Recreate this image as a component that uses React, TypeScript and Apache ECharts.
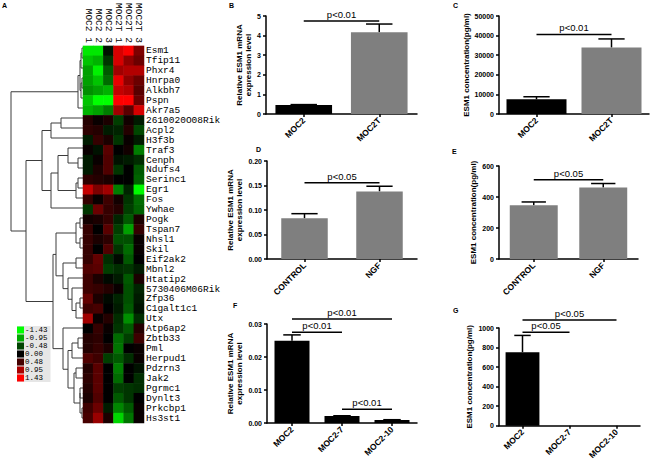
import React, { useEffect, useRef } from "react";
import * as echarts from "echarts";

// ---------- Heatmap data ----------
const heatCols = ["MOC2 1", "MOC2 2", "MOC2 3", "MOC2T 1", "MOC2T 2", "MOC2T 3"];
const genes = [
  "Esm1", "Tfip11", "Phxr4", "Hnrpa0", "Alkbh7", "Pspn", "Akr7a5", "2610020O08Rik",
  "Acpl2", "H3f3b", "Traf3", "Cenph", "Ndufs4", "Serinc1", "Egr1", "Fos", "Ywhae",
  "Pogk", "Tspan7", "Nhsl1", "Skil", "Eif2ak2", "Mbnl2", "Htatip2", "5730406M06Rik",
  "Zfp36", "C1galt1c1", "Utx", "Atp6ap2", "Zbtb33", "Pml", "Herpud1", "Pdzrn3", "Jak2",
  "Pgrmc1", "Dynlt3", "Prkcbp1", "Hs3st1",
];
const heatValues: number[][] = [
  [-1.3, -1.3, -0.1, 1.2, 1.4, 0.7],
  [-1.1, -1.0, -0.3, 1.2, 0.8, 0.6],
  [-0.9, -1.35, -0.5, 0.9, 1.0, 1.0],
  [-0.9, -1.1, -0.6, 1.3, 0.8, 0.6],
  [-0.8, -0.9, -1.0, 1.1, 1.0, 0.5],
  [-1.1, -1.43, -1.43, 1.43, 1.43, 0.6],
  [-1.0, -0.9, -0.7, 0.9, 0.5, 1.2],
  [0.2, 0.05, 0.15, -0.35, 0.1, -0.15],
  [0.25, 0.2, -0.15, -0.2, 0.2, -0.4],
  [-0.15, 0.3, 0.15, -0.3, 0.05, -0.15],
  [0.05, -0.1, 0.5, 0.0, 0.1, -0.7],
  [-0.15, 0.05, 0.45, -0.1, -0.15, -0.25],
  [-0.15, 0.15, 0.45, -0.3, 0.0, -0.5],
  [0.25, 0.2, 0.15, 0.0, 0.0, -0.55],
  [1.1, 0.7, 0.9, -0.7, -0.2, -1.4],
  [0.3, 0.05, 0.35, 0.1, -0.3, -0.6],
  [-0.3, 0.6, 0.3, 0.2, -0.35, -0.55],
  [0.1, 0.15, 0.3, -0.2, -0.5, 0.15],
  [0.3, 0.0, 0.5, -0.35, -0.9, 0.3],
  [0.3, 0.15, 0.25, -0.45, -0.45, 0.05],
  [0.3, 0.0, 0.45, -0.3, -0.6, 0.05],
  [0.3, 0.55, -0.25, -0.05, -0.5, 0.0],
  [0.45, 0.5, -0.35, -0.25, -0.3, -0.15],
  [0.35, 0.15, -0.05, -0.15, -0.5, 0.15],
  [0.35, 0.3, 0.2, 0.05, -0.45, -0.2],
  [0.55, 0.15, -0.05, -0.2, -0.45, -0.15],
  [0.35, 0.4, 0.0, -0.15, -0.5, -0.1],
  [0.9, 0.05, 0.2, -0.25, -0.8, -0.25],
  [0.0, 0.3, 0.05, -0.3, -0.5, 0.2],
  [0.2, 0.25, 0.0, -0.6, -0.35, 0.35],
  [0.2, 0.3, 0.15, -0.65, 0.0, 0.05],
  [0.45, 0.35, -0.35, -0.5, -0.25, 0.05],
  [0.2, 0.5, 0.0, -0.7, 0.0, -0.1],
  [0.25, 0.5, 0.0, -0.6, 0.0, -0.25],
  [0.2, 0.5, 0.0, -0.35, -0.3, -0.25],
  [0.15, 0.45, 0.0, -0.5, -0.3, 0.0],
  [0.35, 0.6, -0.15, -0.75, -0.5, 0.05],
  [0.4, 0.85, 0.15, -1.2, -0.65, 0.05],
];
const legendValues = [-1.43, -0.95, -0.48, 0.0, 0.48, 0.95, 1.43];
const legendLabels = ["-1.43", "-0.95", "-0.48", "0.00", "0.48", "0.95", "1.43"];

// Dendrogram: [mergeHeight, left, right]; leaves are row indices
type Node = number | [number, Node, Node];
const dendroTop: Node = [5, [3, [2, [1, 0, 1], 2], [2, [1, 3, 4], 5]], 6];
const dendroN2: Node = [41, [32, [22, 7, 8], 9], [32, [25, [15, 10, [5, 11, 12]], [7, [5, 13, 14], 15]], 16]];
const dendroN7: Node = [27, [7, [3, 17, 18], [3, 19, 20]], [20, [7, 21, 22], [15, 23, [11, 24, [7, [3, 25, 26], 27]]]]];
const dendroN9: Node = [20, 28, [15, [11, [5, 29, 30], 31], [9, [7, 32, 33], [3, [3, 34, 35], [1, 36, 37]]]]];
const dendrogram: Node = [72, dendroTop, [57, dendroN2, [30, dendroN7, dendroN9]]];
const dendroMaxHeight = 72;

// ---------- Bar panel data ----------
const catsB = ["MOC2", "MOC2T"];
const valsB = [0.46, 4.17];
const errsB = [0.02, 0.42];
const sigB = [[0, 1, 4.74]];
const sigTextB = ["p<0.01"];

const catsC = ["MOC2", "MOC2T"];
const valsC = [7500, 33900];
const errsC = [1300, 4400];
const sigC = [[0, 1, 40600]];
const sigTextC = ["p<0.01"];

const catsD = ["CONTROL", "NGF"];
const valsD = [0.083, 0.138];
const errsD = [0.0095, 0.0105];
const sigD = [[0, 1, 0.1557]];
const sigTextD = ["p<0.05"];

const catsE = ["CONTROL", "NGF"];
const valsE = [347, 461];
const errsE = [21, 26];
const sigE = [[0, 1, 512]];
const sigTextE = ["p<0.05"];

const catsF = ["MOC2", "MOC2-7", "MOC2-10"];
const valsF = [0.0249, 0.0021, 0.0009];
const errsF = [0.0018, 0.0001, 0.0001];
const sigF = [[0, 2, 0.0315], [0, 1, 0.0275], [1, 2, 0.0042]];
const sigTextF = ["p<0.01", "p<0.01", "p<0.01"];

const catsG = ["MOC2", "MOC2-7", "MOC2-10"];
const valsG = [752, 0, 0];
const errsG = [172, 0, 0];
const sigG = [[0, 2, 1082], [0, 1, 956]];
const sigTextG = ["p<0.05", "p<0.05"];

const SANS = "'Liberation Sans', Arial, sans-serif";
const MONO = "'Liberation Mono', 'Courier New', monospace";
const BLACK = "#000000";
const GRAY = "#7f7f7f";

const panels = [
  { cats: catsB, vals: valsB, errs: errsB, sig: sigB, sigText: sigTextB, max: 5, interval: 1, dec: 0,
    name: "Relative ESM1 mRNA\nexpression level", colors: [BLACK, GRAY],
    grid: { left: 266, top: 16, width: 151, height: 98 }, barWidth: "75%", nameGap: 13 },
  { cats: catsC, vals: valsC, errs: errsC, sig: sigC, sigText: sigTextC, max: 50000, interval: 10000, dec: 0,
    name: "ESM1 concentration(pg/ml)", colors: [BLACK, GRAY],
    grid: { left: 499, top: 16, width: 150, height: 98 }, barWidth: "80%", nameGap: 26 },
  { cats: catsD, vals: valsD, errs: errsD, sig: sigD, sigText: sigTextD, max: 0.2, interval: 0.05, dec: 2,
    name: "Relative ESM1 mRNA\nexpression level", colors: [GRAY, GRAY],
    grid: { left: 267, top: 161, width: 150, height: 98 }, barWidth: "62%", nameGap: 21 },
  { cats: catsE, vals: valsE, errs: errsE, sig: sigE, sigText: sigTextE, max: 600, interval: 200, dec: 0,
    name: "ESM1 concentration(pg/ml)", colors: [GRAY, GRAY],
    grid: { left: 499, top: 166, width: 139, height: 93 }, barWidth: "69%", nameGap: 17 },
  { cats: catsF, vals: valsF, errs: errsF, sig: sigF, sigText: sigTextF, max: 0.03, interval: 0.01, dec: 2,
    name: "Relative ESM1 mRNA\nexpression level", colors: [BLACK, BLACK, BLACK],
    grid: { left: 267, top: 324, width: 150, height: 99 }, barWidth: "70%", nameGap: 20 },
  { cats: catsG, vals: valsG, errs: errsG, sig: sigG, sigText: sigTextG, max: 1000, interval: 200, dec: 0,
    name: "ESM1 concentration(pg/ml)", colors: [BLACK, BLACK, BLACK],
    grid: { left: 499, top: 328, width: 141, height: 101 }, barWidth: "72%", nameGap: 25 },
];

const panelLetters = [
  { t: "A", x: 2, y: 2 },
  { t: "B", x: 229, y: 2 },
  { t: "C", x: 453, y: 2 },
  { t: "D", x: 256, y: 146 },
  { t: "E", x: 452, y: 148 },
  { t: "F", x: 233, y: 302 },
  { t: "G", x: 453, y: 307 },
];

function buildDendro(node: Node, segs: any[]): { y: number; h: number } {
  if (typeof node === "number") return { y: node, h: 0 };
  const [h, a, b] = node;
  const A = buildDendro(a, segs);
  const B = buildDendro(b, segs);
  segs.push({ coords: [[A.h, A.y], [h, A.y], [h, B.y], [B.h, B.y]] });
  return { y: (A.y + B.y) / 2, h };
}

function buildOption() {
  const grids: any[] = [];
  const xAxes: any[] = [];
  const yAxes: any[] = [];
  const series: any[] = [];

  // grid 0: dendrogram
  grids.push({ left: 11, top: 43, width: 72, height: 380 });
  xAxes.push({ type: "value", gridIndex: 0, min: 0, max: dendroMaxHeight, inverse: true, show: false });
  yAxes.push({ type: "value", gridIndex: 0, min: -0.5, max: genes.length - 0.5, inverse: true, show: false });
  const segs: any[] = [];
  buildDendro(dendrogram, segs);
  series.push({
    type: "lines", coordinateSystem: "cartesian2d", xAxisIndex: 0, yAxisIndex: 0,
    polyline: true, silent: true, data: segs,
    lineStyle: { color: "#3c3c3c", width: 1, opacity: 1 },
  });
  series.push({ type: "scatter", xAxisIndex: 0, yAxisIndex: 0, data: [], silent: true });

  // grid 1: heatmap
  grids.push({ left: 83, top: 43, width: 61, height: 380 });
  xAxes.push({
    type: "category", gridIndex: 1, data: heatCols, position: "top",
    axisLine: { show: false }, axisTick: { show: false },
    axisLabel: { rotate: 90, interval: 0, margin: 3, fontSize: 9.5, fontFamily: MONO, color: "#000" },
    splitLine: { show: false },
  });
  yAxes.push({
    type: "category", gridIndex: 1, data: genes, position: "right", inverse: true,
    axisLine: { show: false }, axisTick: { show: false },
    axisLabel: { interval: 0, margin: 2, fontSize: 9.5, fontFamily: MONO, color: "#000" },
    splitLine: { show: false },
  });
  const heatData: number[][] = [];
  heatValues.forEach((row, r) => row.forEach((v, c) => heatData.push([c, r, v])));
  series.push({
    type: "heatmap", xAxisIndex: 1, yAxisIndex: 1, data: heatData, silent: true,
    itemStyle: { borderWidth: 0 },
  });

  panels.forEach((p, i) => {
    const gi = i + 2;
    grids.push({ ...p.grid });
    xAxes.push({
      type: "category", gridIndex: gi, data: p.cats, boundaryGap: true,
      axisLine: { show: true, lineStyle: { color: "#000", width: 1.5 } },
      axisTick: { show: true, alignWithLabel: true, length: 3, lineStyle: { color: "#000", width: 1.5 } },
      axisLabel: { rotate: 45, interval: 0, margin: 5, fontSize: 8.5, fontWeight: "bold", fontFamily: SANS, color: "#000" },
      splitLine: { show: false },
    });
    yAxes.push({
      type: "value", gridIndex: gi, min: 0, max: p.max, interval: p.interval,
      name: p.name, nameLocation: "middle", nameGap: p.nameGap,
      nameTextStyle: { fontSize: 8, fontWeight: "bold", fontFamily: SANS, color: "#000", lineHeight: 9 },
      axisLine: { show: true, lineStyle: { color: "#000", width: 1.5 } },
      axisTick: { show: true, length: 3, lineStyle: { color: "#000", width: 1.5 } },
      axisLabel: {
        margin: 5, fontSize: 7, fontWeight: "bold", fontFamily: SANS, color: "#000",
        formatter: (v: number) => v.toFixed(p.dec),
      },
      splitLine: { show: false },
    });
    series.push({
      type: "bar", xAxisIndex: gi, yAxisIndex: gi, barWidth: p.barWidth, silent: true,
      data: p.vals.map((v, k) => ({ value: v, itemStyle: { color: p.colors[k] } })),
    });
    series.push({
      type: "custom", xAxisIndex: gi, yAxisIndex: gi, silent: true, clip: false,
      encode: { x: 0, y: [1, 2] },
      data: p.vals.map((v, k) => [k, v, p.errs[k]]),
      renderItem: (params: any, api: any) => {
        const x = api.value(0);
        const v = api.value(1);
        const e = api.value(2);
        if (!(e > 0)) return null;
        const p0 = api.coord([x, v]);
        const p1 = api.coord([x, v + e]);
        const cap = api.size([1, 0])[0] * 0.35;
        const st = { stroke: "#000", lineWidth: 1.5 };
        return {
          type: "group",
          children: [
            { type: "line", shape: { x1: p0[0], y1: p0[1], x2: p1[0], y2: p1[1] }, style: st },
            { type: "line", shape: { x1: p1[0] - cap / 2, y1: p1[1], x2: p1[0] + cap / 2, y2: p1[1] }, style: st },
          ],
        };
      },
    });
    series.push({
      type: "custom", xAxisIndex: gi, yAxisIndex: gi, silent: true, clip: false,
      encode: { x: [0, 1], y: 2 },
      data: p.sig,
      renderItem: (params: any, api: any) => {
        const a = api.coord([api.value(0), api.value(2)]);
        const b = api.coord([api.value(1), api.value(2)]);
        return {
          type: "group",
          children: [
            { type: "line", shape: { x1: a[0], y1: a[1], x2: b[0], y2: b[1] }, style: { stroke: "#000", lineWidth: 1.5 } },
            {
              type: "text", x: (a[0] + b[0]) / 2, y: a[1] - 1.5,
              style: {
                text: p.sigText[params.dataIndex], align: "center", verticalAlign: "bottom",
                fontSize: 9.5, fontFamily: SANS, fill: "#000",
              },
            },
          ],
        };
      },
    });
  });

  const legendColors = ["#00ff00", "#00aa00", "#004400", "#000000", "#440000", "#aa0000", "#ff0000"];

  return {
    animation: false,
    backgroundColor: "#ffffff",
    grid: grids,
    xAxis: xAxes,
    yAxis: yAxes,
    visualMap: [
      {
        type: "continuous", seriesIndex: 2, min: -1.43, max: 1.43, show: false,
        inRange: { color: ["#00ff00", "#000000", "#ff0000"] },
      },
      {
        type: "piecewise", seriesIndex: 1, orient: "vertical", inverse: true, left: 17, top: 326,
        itemWidth: 7, itemHeight: 7, itemGap: 0, itemSymbol: "rect", textGap: 1,
        selectedMode: false, padding: [0, 3, 0, 0], backgroundColor: "#e6e6e6",
        textStyle: { fontSize: 7.5, fontFamily: MONO, color: "#000" },
        pieces: legendValues.map((v, k) => ({ value: v, label: legendLabels[k], color: legendColors[k] })),
      },
    ],
    graphic: panelLetters.map((l) => ({
      type: "text", left: l.x, top: l.y,
      style: { text: l.t, fontSize: 7, fontWeight: "bold", fontFamily: SANS, fill: "#000" },
    })),
    series,
  };
}

export default function App() {
  const ref = useRef<HTMLDivElement>(null);
  useEffect(() => {
    if (!ref.current) return;
    const chart = echarts.init(ref.current, undefined, { renderer: "svg" });
    chart.setOption(buildOption() as any);
    return () => chart.dispose();
  }, []);
  return (
    <div
      ref={ref}
      style={{ position: "absolute", left: 0, top: 0, width: 650, height: 462, background: "#fff" }}
    />
  );
}
